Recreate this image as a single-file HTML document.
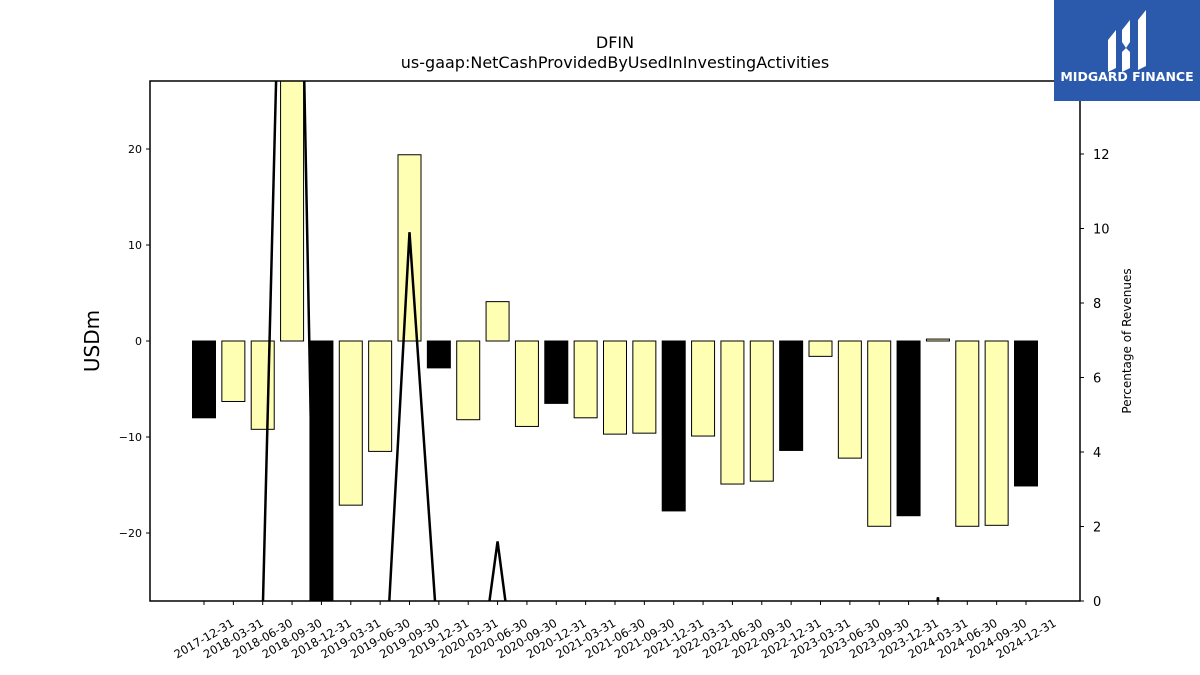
<!DOCTYPE html>
<html><head><meta charset="utf-8"><style>
html,body{margin:0;padding:0;width:1200px;height:675px;overflow:hidden;background:#fff;font-family:"Liberation Sans","DejaVu Sans",sans-serif;}
svg{display:block;}
svg text{font-family:"DejaVu Sans","Liberation Sans",sans-serif;}
</style></head><body>
<svg id="chart" width="1200" height="675" xmlns="http://www.w3.org/2000/svg">
<rect width="1200" height="675" fill="#fff"/>
<text x="615" y="48" text-anchor="middle" font-size="16">DFIN</text>
<text x="615" y="68" text-anchor="middle" font-size="16">us-gaap:NetCashProvidedByUsedInInvestingActivities</text>
<g id="plot"></g>
<text x="0" y="0" transform="translate(99,341) rotate(-90)" text-anchor="middle" font-size="20">USDm</text>
<text x="0" y="0" transform="translate(1131,341) rotate(-90)" text-anchor="middle" font-size="12">Percentage of Revenues</text>
<g>
<rect x="1054" y="0" width="146" height="101" fill="#2b5aad"/>
<path d="M1108 40 L1116 30 L1116 68 L1108 72 Z" fill="#fff"/>
<path d="M1122 30 L1130 20 L1130 42 L1126 48 L1122 42 Z" fill="#fff"/>
<path d="M1122 52 L1126 48 L1130 52 L1130 68 L1122 72 Z" fill="#fff"/>
<path d="M1138 20 L1146 10 L1146 66 L1138 70 Z" fill="#fff"/>
<text x="1127" y="81" text-anchor="middle" font-size="12.5" font-weight="bold" fill="#fff" font-family="Liberation Sans">MIDGARD FINANCE</text>
</g>
</svg>
<script>
const categories=["2017-12-31","2018-03-31","2018-06-30","2018-09-30","2018-12-31","2019-03-31","2019-06-30","2019-09-30","2019-12-31","2020-03-31","2020-06-30","2020-09-30","2020-12-31","2021-03-31","2021-06-30","2021-09-30","2021-12-31","2022-03-31","2022-06-30","2022-09-30","2022-12-31","2023-03-31","2023-06-30","2023-09-30","2023-12-31","2024-03-31","2024-06-30","2024-09-30","2024-12-31"];
const values=[-8.0,-6.3,-9.2,30,-30,-17.1,-11.5,19.4,-2.8,-8.2,4.1,-8.9,-6.5,-8.0,-9.7,-9.6,-17.7,-9.9,-14.9,-14.6,-11.4,-1.6,-12.2,-19.3,-18.2,0.2,-19.3,-19.2,-15.1];
const annual=[1,0,0,0,1,0,0,0,1,0,0,0,1,0,0,0,1,0,0,0,1,0,0,0,1,0,0,0,1];
const pctValues=[-5,-4,-0.3,31,-10,-6,-4.5,9.9,-1.5,-4.2,1.6,-4.4,-3,-4,-5,-5,-9,-5,-7,-7,-6,-1,-6,-9,-8,0.1,-9,-9,-8];
const yTicks=[-20,-10,0,10,20];
const y2Ticks=[0,2,4,6,8,10,12];
const NS="http://www.w3.org/2000/svg";
const L=150,R=1080,T=81,B=601;
const x=i=>204+i*(1026-204)/28;
const y=v=>341-v*9.6;
const y2=v=>601-v*37.25;
const svg=document.getElementById('plot');
function mk(t,a){const e=document.createElementNS(NS,t);for(const k in a)e.setAttribute(k,a[k]);svg.appendChild(e);return e;}
const defs=mk('defs',{});
const cp=document.createElementNS(NS,'clipPath');cp.setAttribute('id','clip');
const cr=document.createElementNS(NS,'rect');cr.setAttribute('x',L);cr.setAttribute('y',T);cr.setAttribute('width',R-L);cr.setAttribute('height',B-T);
cp.appendChild(cr);defs.appendChild(cp);
const g=mk('g',{'clip-path':'url(#clip)'});
values.forEach((v,i)=>{
 const r=document.createElementNS(NS,'rect');
 const y0=y(Math.max(v,0)),y1=y(Math.min(v,0));
 r.setAttribute('x',x(i)-11.5);r.setAttribute('width',23);
 r.setAttribute('y',y0);r.setAttribute('height',y1-y0);
 r.setAttribute('fill',annual[i]?'#000':'#ffffb3');r.setAttribute('stroke','#000');r.setAttribute('stroke-width','1');
 
 
 g.appendChild(r);
});
const pl=document.createElementNS(NS,'polyline');
pl.setAttribute('points',pctValues.map((v,i)=>x(i)+','+y2(v)).join(' '));
pl.setAttribute('fill','none');pl.setAttribute('stroke','#000');pl.setAttribute('stroke-width','2.5');


g.appendChild(pl);
svg.appendChild(g);
mk('rect',{x:L,y:T,width:R-L,height:B-T,fill:'none',stroke:'#000','stroke-width':1.5,});
yTicks.forEach(t=>{
 mk('line',{x1:L-4,x2:L,y1:y(t),y2:y(t),stroke:'#000'});
 const e=mk('text',{x:L-8,y:y(t)+4,'text-anchor':'end','font-size':11});e.textContent=t<0?'\u2212'+(-t):t;
 
 
});
y2Ticks.forEach(t=>{
 mk('line',{x1:R,x2:R+4,y1:y2(t),y2:y2(t),stroke:'#000'});
 const e=mk('text',{x:R+13,y:y2(t)+5,'font-size':13});e.textContent=t;
 
 
});
categories.forEach((c,i)=>{
 mk('line',{x1:x(i),x2:x(i),y1:B,y2:B+4,stroke:'#000'});
 const e=mk('text',{x:0,y:0,'text-anchor':'middle','font-size':11.5,transform:`translate(${x(i)+2},${B+41}) rotate(-30)`});
 e.textContent=c;
 
 
});
</script>
</body></html>
